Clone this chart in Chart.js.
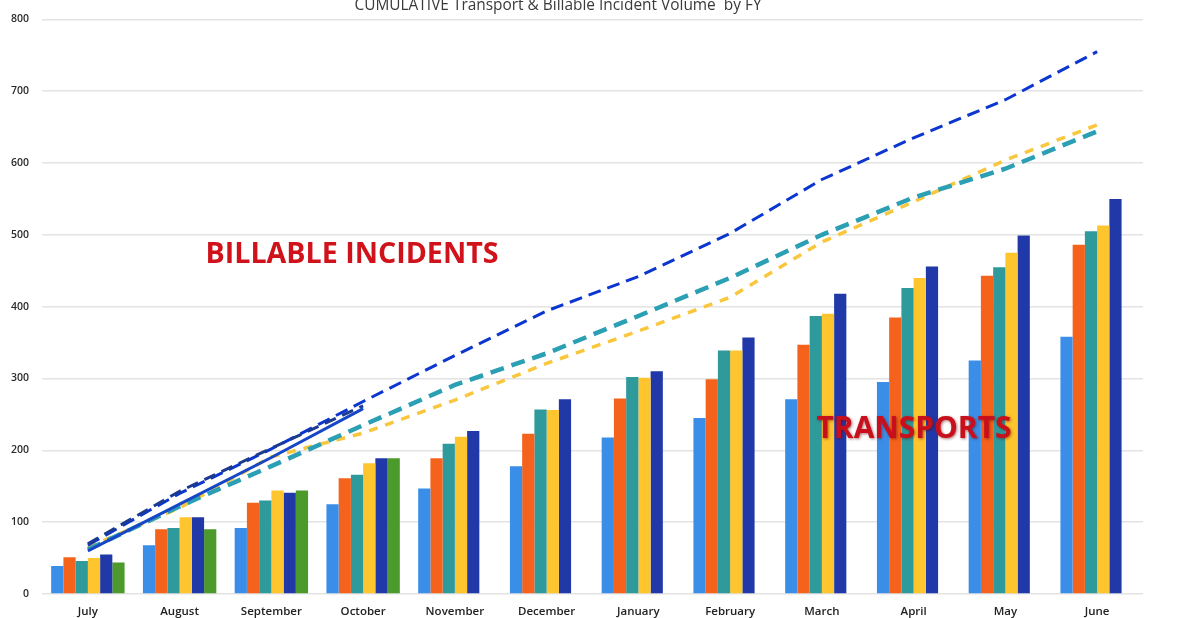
<!DOCTYPE html>
<html lang="en">
  <head>
    <meta charset="UTF-8" />
    <meta name="viewport" content="width=device-width, initial-scale=1.0" />
    <title>Cumulative Transport & Billable Incident Volume</title>
    <script src="https://cdn.jsdelivr.net/npm/chart.js@4.4.1/dist/chart.umd.min.js"></script>
    <style>
      html, body { margin: 0; padding: 0; background: #fff; }
      #wrap { position: relative; width: 1195px; height: 618px; }
    </style>
  </head>
  <body>
    <div id="wrap"><canvas id="myChart"></canvas></div>

    <script>
      const months = ["July", "August", "September", "October", "November", "December",
        "January", "February", "March", "April", "May", "June"];
      const yTicks = [0, 100, 200, 300, 400, 500, 600, 700, 800];

      // transports (bars), one array per fiscal year
      const transFY1 = [39, 68, 92, 125, 147, 178, 218, 245, 271, 295, 325, 358];
      const transFY2 = [51, 90, 127, 161, 189, 223, 272, 299, 347, 385, 443, 486];
      const transFY3 = [46, 92, 130, 166, 209, 257, 302, 339, 387, 426, 455, 505];
      const transFY4 = [50, 107, 144, 182, 219, 256, 301, 339, 390, 440, 475, 513];
      const transFY5 = [55, 107, 141, 189, 227, 271, 310, 357, 418, 456, 499, 550];
      const transFY6 = [44, 90, 144, 189, null, null, null, null, null, null, null, null];

      // billable incidents (lines)
      const billBlue = [68, 140, 202, 268, 332, 394, 442, 502, 577, 635, 688, 755];
      const billTeal = [62, 122, 178, 235, 291, 335, 387, 440, 500, 552, 592, 644];
      const billYellow = [65, 120, 191, 224, 270, 321, 366, 413, 490, 546, 604, 653];
      const billNavy = [70, 143, 203, 262, null, null, null, null, null, null, null, null];
      const billSolid = [60, 125, 190, 258, null, null, null, null, null, null, null, null];

      const titleText = "CUMULATIVE Transport & Billable Incident Volume  by FY";

      function drawFit(c, text, cx, baseY, w, font, color, shadow) {
        c.save();
        c.font = font;
        const m = c.measureText(text).width;
        c.translate(cx, baseY);
        c.scale(w / m, 1);
        c.textAlign = "center";
        c.textBaseline = "alphabetic";
        c.fillStyle = color;
        if (shadow) {
          c.shadowColor = "rgba(110,0,0,0.55)";
          c.shadowBlur = 3;
          c.shadowOffsetX = 1;
          c.shadowOffsetY = 1;
        }
        c.fillText(text, 0, 0);
        c.restore();
      }

      const overlayText = {
        id: "overlayText",
        afterDraw(chart) {
          const c = chart.ctx;
          drawFit(c, titleText, 558, 10, 407, "400 16px 'Open Sans'", "#3a3a3a");
          drawFit(c, "BILLABLE INCIDENTS", 352, 263, 293, "700 29px 'Open Sans'", "#d0121b");
          drawFit(c, "TRANSPORTS", 914, 438, 195, "700 30px 'Open Sans'", "#c8101c", true);
        },
      };

      function bar(data, color) {
        return { type: "bar", data: data, backgroundColor: color, order: 2,
          categoryPercentage: 0.8, barPercentage: 1.0 };
      }
      function line(data, color, width, dash) {
        return { type: "line", data: data, borderColor: color, borderWidth: width,
          borderDash: dash, pointRadius: 0, tension: 0, fill: false, order: 1,
          spanGaps: false };
      }

      const ctx = document.getElementById("myChart");
      new Chart(ctx, {
        data: {
          labels: months,
          datasets: [
            line(billSolid, "#1747c7", 3, []),
            line(billNavy, "#1d3b8e", 3, [12, 7]),
            line(billBlue, "#0b36cf", 3, [13, 7]),
            line(billTeal, "#2b9fb3", 4.5, [14, 8]),
            line(billYellow, "#f9c73d", 3.5, [9, 8]),
            bar(transFY1, "#3b8ee8"),
            bar(transFY2, "#f5621b"),
            bar(transFY3, "#2f9a9c"),
            bar(transFY4, "#fec52e"),
            bar(transFY5, "#2139a8"),
            bar(transFY6, "#4d9a2c"),
          ],
        },
        options: {
          responsive: true,
          maintainAspectRatio: false,
          animation: false,
          layout: { padding: { top: 12, right: 52, left: 0, bottom: 0 } },
          plugins: {
            legend: { display: false },
            title: { display: false },
            tooltip: { enabled: false },
          },
          scales: {
            x: {
              grid: { display: false, drawTicks: false },
              border: { display: false },
              ticks: {
                padding: 11,
                color: "#222",
                font: { family: "'Open Sans'", size: 11.5, weight: "600" },
                maxRotation: 0,
                autoSkip: false,
              },
              afterFit(scale) { scale.height = 24; },
            },
            y: {
              min: yTicks[0],
              max: yTicks[yTicks.length - 1],
              afterBuildTicks(scale) {
                scale.ticks = yTicks.map((v) => ({ value: v }));
              },
              grid: { color: "#e3e3e3", lineWidth: 1.5, drawTicks: false },
              border: { display: false },
              ticks: {
                padding: 13,
                color: "#2a2a2a",
                font: { family: "'Open Sans'", size: 10.5, weight: "600" },
              },
              afterFit(scale) { scale.width = 42; },
            },
          },
        },
        plugins: [overlayText],
      });
    </script>
  </body>
</html>
